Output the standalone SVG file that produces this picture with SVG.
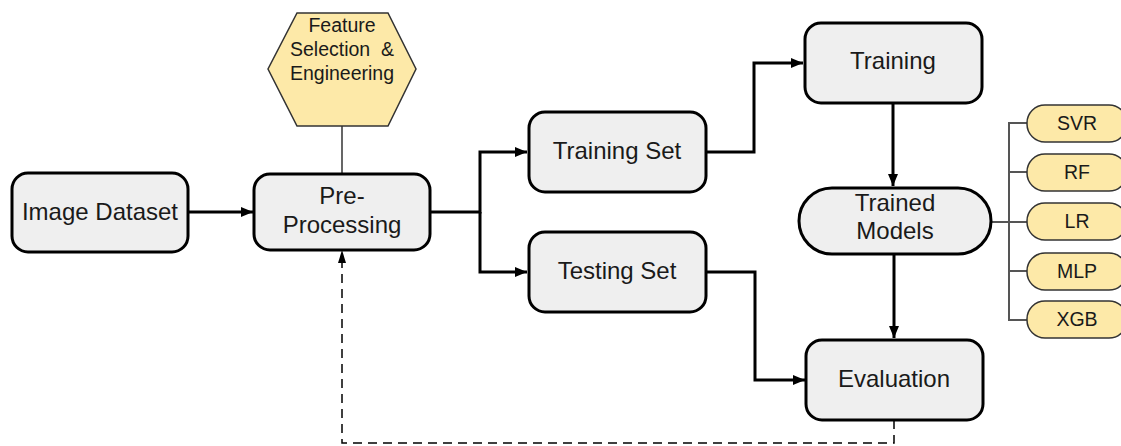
<svg xmlns="http://www.w3.org/2000/svg" width="1121" height="446" viewBox="0 0 1121 446">
  <defs>
    <marker id="arr" viewBox="0 0 12 10" refX="12" refY="5" markerWidth="12" markerHeight="10" markerUnits="userSpaceOnUse" orient="auto">
      <path d="M0,0 L12,5 L0,10 Z" fill="#000"/>
    </marker>
  </defs>
  <style>
    .box { fill: #efefef; stroke: #000; stroke-width: 3; }
    .pill { fill: #fde9a8; stroke: #333; stroke-width: 1.5; }
    .hex { fill: #fde9a8; stroke: #333; stroke-width: 1.5; }
    .t { font-family: "Liberation Sans", Arial, sans-serif; font-size: 24px; fill: #1a1a1a; text-anchor: middle; }
    .ts { font-family: "Liberation Sans", Arial, sans-serif; font-size: 19.5px; fill: #1a1a1a; text-anchor: middle; }
    .c { fill: none; stroke: #000; stroke-width: 3; }
    .thin { fill: none; stroke: #000; stroke-width: 1.2; }
    .br { fill: none; stroke: #555; stroke-width: 2; }
    .dash { fill: none; stroke: #000; stroke-width: 1.5; stroke-dasharray: 9 6; }
  </style>
  <rect width="1121" height="446" fill="#fff"/>

  <g id="connectors">
    <path class="thin" d="M342,126 L342,174"/>
    <path class="c" d="M188,212 L253,212" marker-end="url(#arr)"/>
    <path class="c" d="M430,212 L480,212 L480,152 L527,152" marker-end="url(#arr)"/>
    <path class="c" d="M480,212 L480,272 L527,272" marker-end="url(#arr)"/>
    <path class="c" d="M706,152 L754,152 L754,63 L803,63" marker-end="url(#arr)"/>
    <path class="c" d="M706,272 L755,272 L755,380 L805,380" marker-end="url(#arr)"/>
    <path class="c" d="M893,103 L893,186" marker-end="url(#arr)"/>
    <path class="c" d="M894,255 L894,338" marker-end="url(#arr)"/>
    <path class="dash" d="M894,420 L894,443 L342,443 L342,262"/>
    <path d="M342,250 L338,263 L346,263 Z" fill="#000"/>
    <path class="br" d="M991,222 L1027,222"/>
    <path class="br" d="M1027,123 L1009,123 L1009,320 L1027,320"/>
    <path class="br" d="M1009,172 L1027,172"/>
    <path class="br" d="M1009,271 L1027,271"/>
  </g>

  <g id="feature-selection">
    <polygon class="hex" points="297,13 388,13 416,69 388,126 297,126 268,69"/>
    <text class="ts" x="342" y="32">Feature</text>
    <text class="ts" x="342" y="56" xml:space="preserve">Selection  &amp;</text>
    <text class="ts" x="342" y="80">Engineering</text>
  </g>

  <g id="image-dataset">
    <rect class="box" x="12" y="173" width="176" height="79" rx="16"/>
    <text class="t" x="100" y="220">Image Dataset</text>
  </g>

  <g id="pre-processing">
    <rect class="box" x="254" y="174" width="176" height="76" rx="16"/>
    <text class="t" x="342" y="204">Pre-</text>
    <text class="t" x="342" y="233">Processing</text>
  </g>

  <g id="training-set">
    <rect class="box" x="529" y="112" width="177" height="80" rx="16"/>
    <text class="t" x="617" y="159">Training Set</text>
  </g>

  <g id="testing-set">
    <rect class="box" x="529" y="232" width="177" height="80" rx="16"/>
    <text class="t" x="617" y="279">Testing Set</text>
  </g>

  <g id="training">
    <rect class="box" x="805" y="23" width="177" height="80" rx="16"/>
    <text class="t" x="893" y="69">Training</text>
  </g>

  <g id="trained-models">
    <rect class="box" x="799" y="188" width="192" height="66" rx="33"/>
    <text class="t" x="895" y="211">Trained</text>
    <text class="t" x="895" y="239">Models</text>
  </g>

  <g id="evaluation">
    <rect class="box" x="806" y="340" width="177" height="80" rx="16"/>
    <text class="t" x="894" y="387">Evaluation</text>
  </g>

  <g id="svr">
    <rect class="pill" x="1027" y="105" width="100" height="37" rx="18"/>
    <text class="ts" x="1077" y="130">SVR</text>
  </g>
  <g id="rf">
    <rect class="pill" x="1027" y="154" width="100" height="37" rx="18"/>
    <text class="ts" x="1077" y="179">RF</text>
  </g>
  <g id="lr">
    <rect class="pill" x="1027" y="203" width="100" height="37" rx="18"/>
    <text class="ts" x="1077" y="228">LR</text>
  </g>
  <g id="mlp">
    <rect class="pill" x="1027" y="253" width="100" height="37" rx="18"/>
    <text class="ts" x="1077" y="278">MLP</text>
  </g>
  <g id="xgb">
    <rect class="pill" x="1027" y="301" width="100" height="37" rx="18"/>
    <text class="ts" x="1077" y="326">XGB</text>
  </g>
</svg>
